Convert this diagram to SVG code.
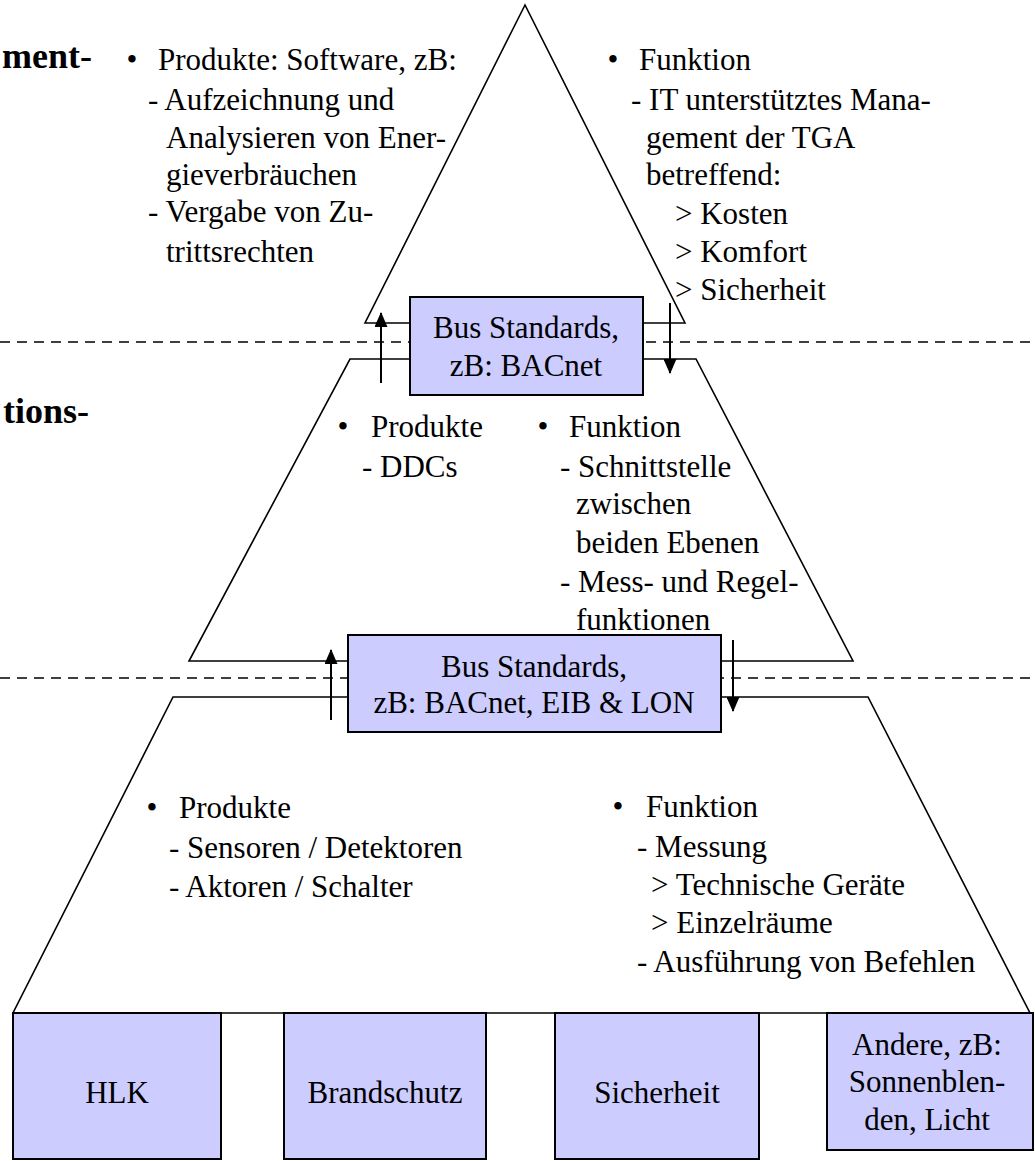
<svg xmlns="http://www.w3.org/2000/svg" width="1035" height="1161" viewBox="0 0 1035 1161">
<defs>
<style>
.t{font-family:"Liberation Serif","Times New Roman",serif;font-size:31px;fill:#000}
.c{text-anchor:middle}
.b{font-family:"Liberation Serif","Times New Roman",serif;font-size:36px;font-weight:bold;fill:#000;text-anchor:end}
.ln{fill:none;stroke:#000;stroke-width:1.6}
.dash{fill:none;stroke:#000;stroke-width:1.6;stroke-dasharray:10,7}
.box{fill:#CCCCFF;stroke:#000;stroke-width:2}
.ar{fill:none;stroke:#000;stroke-width:2}
</style>
<marker id="ah" viewBox="0 0 15 13" refX="14" refY="6.5" markerWidth="15" markerHeight="13" markerUnits="userSpaceOnUse" orient="auto">
<path d="M0,0 L15,6.5 L0,13 Z" fill="#000"/>
</marker>
</defs>
<rect width="1035" height="1161" fill="#fff"/>

<g id="levels">
<line class="dash" x1="0" y1="342" x2="1035" y2="342"/>
<line class="dash" x1="0" y1="678" x2="1035" y2="678"/>
<polygon id="level-management" class="ln" points="525,5 365,323 685,323"/>
<polygon id="level-automation" class="ln" points="350,359 696,359 853,661 189,661"/>
<polygon id="level-field" class="ln" points="173,697 868,697 1030,1013 13,1013"/>
</g>

<g id="connectors">
<line class="ar" x1="381" y1="383" x2="381" y2="313" marker-end="url(#ah)"/>
<line class="ar" x1="670" y1="303" x2="670" y2="373" marker-end="url(#ah)"/>
<line class="ar" x1="331" y1="720" x2="331" y2="650" marker-end="url(#ah)"/>
<line class="ar" x1="733" y1="640" x2="733" y2="711" marker-end="url(#ah)"/>
</g>

<g id="label-management"><text class="b" x="92" y="68">ment-</text></g>
<g id="label-automation"><text class="b" x="89" y="423">tions-</text></g>

<g id="bus1">
<rect class="box" x="410" y="297" width="233" height="98"/>
<text class="t c" x="526" y="338">Bus Standards,</text>
<text class="t c" x="526" y="376">zB: BACnet</text>
</g>

<g id="bus2">
<rect class="box" x="348" y="635" width="373" height="97"/>
<text class="t c" x="534" y="677">Bus Standards,</text>
<text class="t c" x="534" y="713">zB: BACnet, EIB &amp; LON</text>
</g>

<g id="mgmt-products">
<text class="t c" x="132" y="70">•</text>
<text class="t" x="158" y="70">Produkte: Software, zB:</text>
<text class="t" x="148" y="110">- Aufzeichnung und</text>
<text class="t" x="166" y="148">Analysieren von Ener-</text>
<text class="t" x="166" y="185">gieverbräuchen</text>
<text class="t" x="148" y="222">- Vergabe von Zu-</text>
<text class="t" x="166" y="262">trittsrechten</text>
</g>

<g id="mgmt-function">
<text class="t c" x="613" y="70">•</text>
<text class="t" x="639" y="70">Funktion</text>
<text class="t" x="631" y="110">- IT unterstütztes Mana-</text>
<text class="t" x="646" y="148">gement der TGA</text>
<text class="t" x="646" y="185">betreffend:</text>
<text class="t" x="675" y="224">&gt; Kosten</text>
<text class="t" x="675" y="262">&gt; Komfort</text>
<text class="t" x="675" y="300">&gt; Sicherheit</text>
</g>

<g id="auto-products">
<text class="t c" x="343" y="437">•</text>
<text class="t" x="371" y="437">Produkte</text>
<text class="t" x="362" y="477">- DDCs</text>
</g>

<g id="auto-function">
<text class="t c" x="543" y="437">•</text>
<text class="t" x="569" y="437">Funktion</text>
<text class="t" x="560" y="477">- Schnittstelle</text>
<text class="t" x="576" y="514">zwischen</text>
<text class="t" x="576" y="553">beiden Ebenen</text>
<text class="t" x="560" y="592">- Mess- und Regel-</text>
<text class="t" x="576" y="630">funktionen</text>
</g>

<g id="field-products">
<text class="t c" x="152" y="818">•</text>
<text class="t" x="179" y="818">Produkte</text>
<text class="t" x="169" y="858">- Sensoren / Detektoren</text>
<text class="t" x="169" y="897">- Aktoren / Schalter</text>
</g>

<g id="field-function">
<text class="t c" x="618" y="817">•</text>
<text class="t" x="646" y="817">Funktion</text>
<text class="t" x="637" y="857">- Messung</text>
<text class="t" x="651" y="895">&gt; Technische Geräte</text>
<text class="t" x="651" y="933">&gt; Einzelräume</text>
<text class="t" x="637" y="972">- Ausführung von Befehlen</text>
</g>

<g id="hlk">
<rect class="box" x="13" y="1013" width="208" height="146"/>
<text class="t c" x="117" y="1103">HLK</text>
</g>
<g id="brandschutz">
<rect class="box" x="284" y="1013" width="202" height="146"/>
<text class="t c" x="385" y="1103">Brandschutz</text>
</g>
<g id="sicherheit">
<rect class="box" x="555" y="1013" width="204" height="146"/>
<text class="t c" x="657" y="1103">Sicherheit</text>
</g>
<g id="andere">
<rect class="box" x="827" y="1013" width="206" height="137"/>
<text class="t c" x="927" y="1055">Andere, zB:</text>
<text class="t c" x="927" y="1092">Sonnenblen-</text>
<text class="t c" x="927" y="1130">den, Licht</text>
</g>
</svg>
